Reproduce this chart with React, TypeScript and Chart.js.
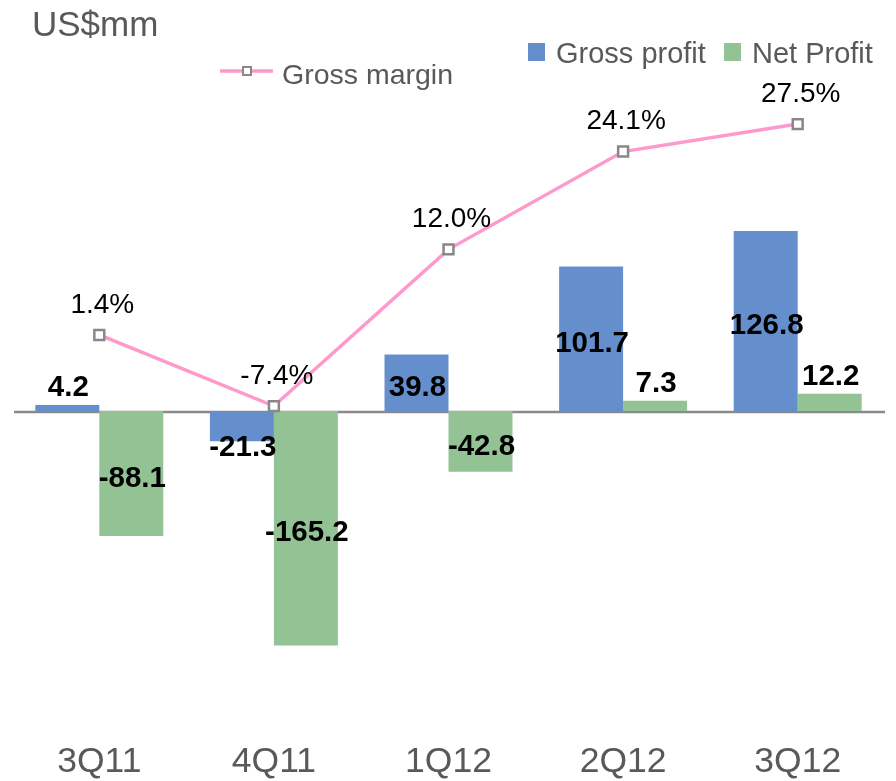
import React, { useEffect, useRef } from 'react';
import { Chart, registerables } from 'chart.js';

Chart.register(...registerables);

// ---- data ----
const categories = ['3Q11', '4Q11', '1Q12', '2Q12', '3Q12'];
const grossProfit = [4.2, -21.3, 39.8, 101.7, 126.8];
const netProfit = [-88.1, -165.2, -42.8, 7.3, 12.2];
const grossMargin = [1.4, -7.4, 12.0, 24.1, 27.5];
const unitLabel = 'US$mm';
const seriesNames = ['Gross profit', 'Net Profit', 'Gross margin'];

// axis ranges
const leftMin = -232.46;
const leftMax = 212.03;
const rightMin = -48.85;
const rightMax = 29.245;

const FONT = '"Liberation Sans", Arial, Helvetica, sans-serif';
const BLUE = '#658fcc';
const GREEN = '#93c394';
const PINK = '#ff99cc';
const GRAY_TEXT = '#595959';

const decorPlugin = {
  id: 'decor',
  beforeDatasetsDraw(chart: any) {
    const { ctx, chartArea, scales } = chart;
    const y0 = scales.y.getPixelForValue(0);
    ctx.save();
    ctx.strokeStyle = '#8a8a8a';
    ctx.lineWidth = 2.5;
    ctx.beginPath();
    ctx.moveTo(chartArea.left + 2, y0 + 1);
    ctx.lineTo(chartArea.right, y0 + 1);
    ctx.stroke();
    ctx.restore();
  },
  afterDatasetsDraw(chart: any) {
    const { ctx } = chart;
    ctx.save();
    // bar value labels
    ctx.fillStyle = '#000';
    ctx.textAlign = 'center';
    ctx.textBaseline = 'middle';
    ctx.font = `bold 29.5px ${FONT}`;
    [0, 1].forEach((di) => {
      const meta = chart.getDatasetMeta(di);
      const vals = chart.data.datasets[di].data as number[];
      meta.data.forEach((el: any, i: number) => {
        const v = vals[i];
        const { x, y, base } = el.getProps(['x', 'y', 'base'], true);
        const h = Math.abs(base - y);
        let ly: number;
        if (h < 40) ly = v >= 0 ? y - 17 : y + 7;
        else ly = (y + base) / 2 + 5;
        ctx.fillText(v.toFixed(1), x + 1, ly);
      });
    });
    // line labels
    ctx.font = `28px ${FONT}`;
    const lm = chart.getDatasetMeta(2);
    lm.data.forEach((p: any, i: number) => {
      ctx.fillText(grossMargin[i].toFixed(1) + '%', p.x + 3, p.y - 30);
    });

    // unit title
    ctx.fillStyle = GRAY_TEXT;
    ctx.textAlign = 'left';
    ctx.textBaseline = 'alphabetic';
    ctx.font = `35px ${FONT}`;
    ctx.fillText(unitLabel, 32, 36);

    // legend: bars
    ctx.font = `29px ${FONT}`;
    ctx.fillStyle = BLUE;
    ctx.fillRect(528, 43, 17, 18);
    ctx.fillStyle = GRAY_TEXT;
    ctx.fillText(seriesNames[0], 556, 63);
    ctx.fillStyle = GREEN;
    ctx.fillRect(724, 43, 17, 18);
    ctx.fillStyle = GRAY_TEXT;
    ctx.fillText(seriesNames[1], 752, 63);

    // legend: line
    ctx.strokeStyle = PINK;
    ctx.lineWidth = 3.5;
    ctx.beginPath();
    ctx.moveTo(220, 71);
    ctx.lineTo(273, 71);
    ctx.stroke();
    ctx.fillStyle = '#fff';
    ctx.strokeStyle = '#888';
    ctx.lineWidth = 2;
    ctx.fillRect(243, 67, 8, 8);
    ctx.strokeRect(243, 67, 8, 8);
    ctx.fillStyle = GRAY_TEXT;
    ctx.font = `28.5px ${FONT}`;
    ctx.fillText(seriesNames[2], 282, 84);
    ctx.restore();
  },
};

export default function App() {
  const ref = useRef<HTMLCanvasElement | null>(null);

  useEffect(() => {
    if (!ref.current) return;
    const chart = new Chart(ref.current, {
      type: 'bar',
      data: {
        labels: categories,
        datasets: [
          {
            type: 'bar',
            label: seriesNames[0],
            data: grossProfit,
            backgroundColor: BLUE,
            yAxisID: 'y',
            order: 2,
            barPercentage: 1,
            categoryPercentage: 0.733,
          },
          {
            type: 'bar',
            label: seriesNames[1],
            data: netProfit,
            backgroundColor: GREEN,
            yAxisID: 'y',
            order: 2,
            barPercentage: 1,
            categoryPercentage: 0.733,
          },
          {
            type: 'line',
            label: seriesNames[2],
            data: grossMargin,
            yAxisID: 'y2',
            borderColor: PINK,
            borderWidth: 3.5,
            tension: 0,
            pointStyle: 'rect',
            pointRadius: 7,
            pointBorderColor: '#888',
            pointBackgroundColor: '#fff',
            pointBorderWidth: 2.5,
            order: 0,
          } as any,
        ],
      },
      options: {
        animation: false,
        responsive: false,
        layout: { padding: { top: 110, left: 12, right: 11, bottom: 0 } },
        plugins: {
          legend: { display: false },
          title: { display: false },
          tooltip: { enabled: false },
        },
        scales: {
          x: {
            type: 'category',
            offset: true,
            grid: { display: false, drawTicks: false },
            border: { display: false },
            ticks: {
              color: GRAY_TEXT,
              font: { family: FONT, size: 35.5, lineHeight: 1.1 },
              padding: 2,
              maxRotation: 0,
              autoSkip: false,
            },
            afterFit: (s: any) => {
              s.height = 40;
            },
          },
          y: { display: false, min: leftMin, max: leftMax },
          y2: { display: false, position: 'right', min: rightMin, max: rightMax },
        },
      } as any,
      plugins: [decorPlugin],
    });
    return () => chart.destroy();
  }, []);

  return (
    <div style={{ position: 'absolute', left: 0, top: 0, width: 896, height: 781, background: '#fff' }}>
      <canvas ref={ref} width={896} height={781} style={{ display: 'block' }} />
    </div>
  );
}
